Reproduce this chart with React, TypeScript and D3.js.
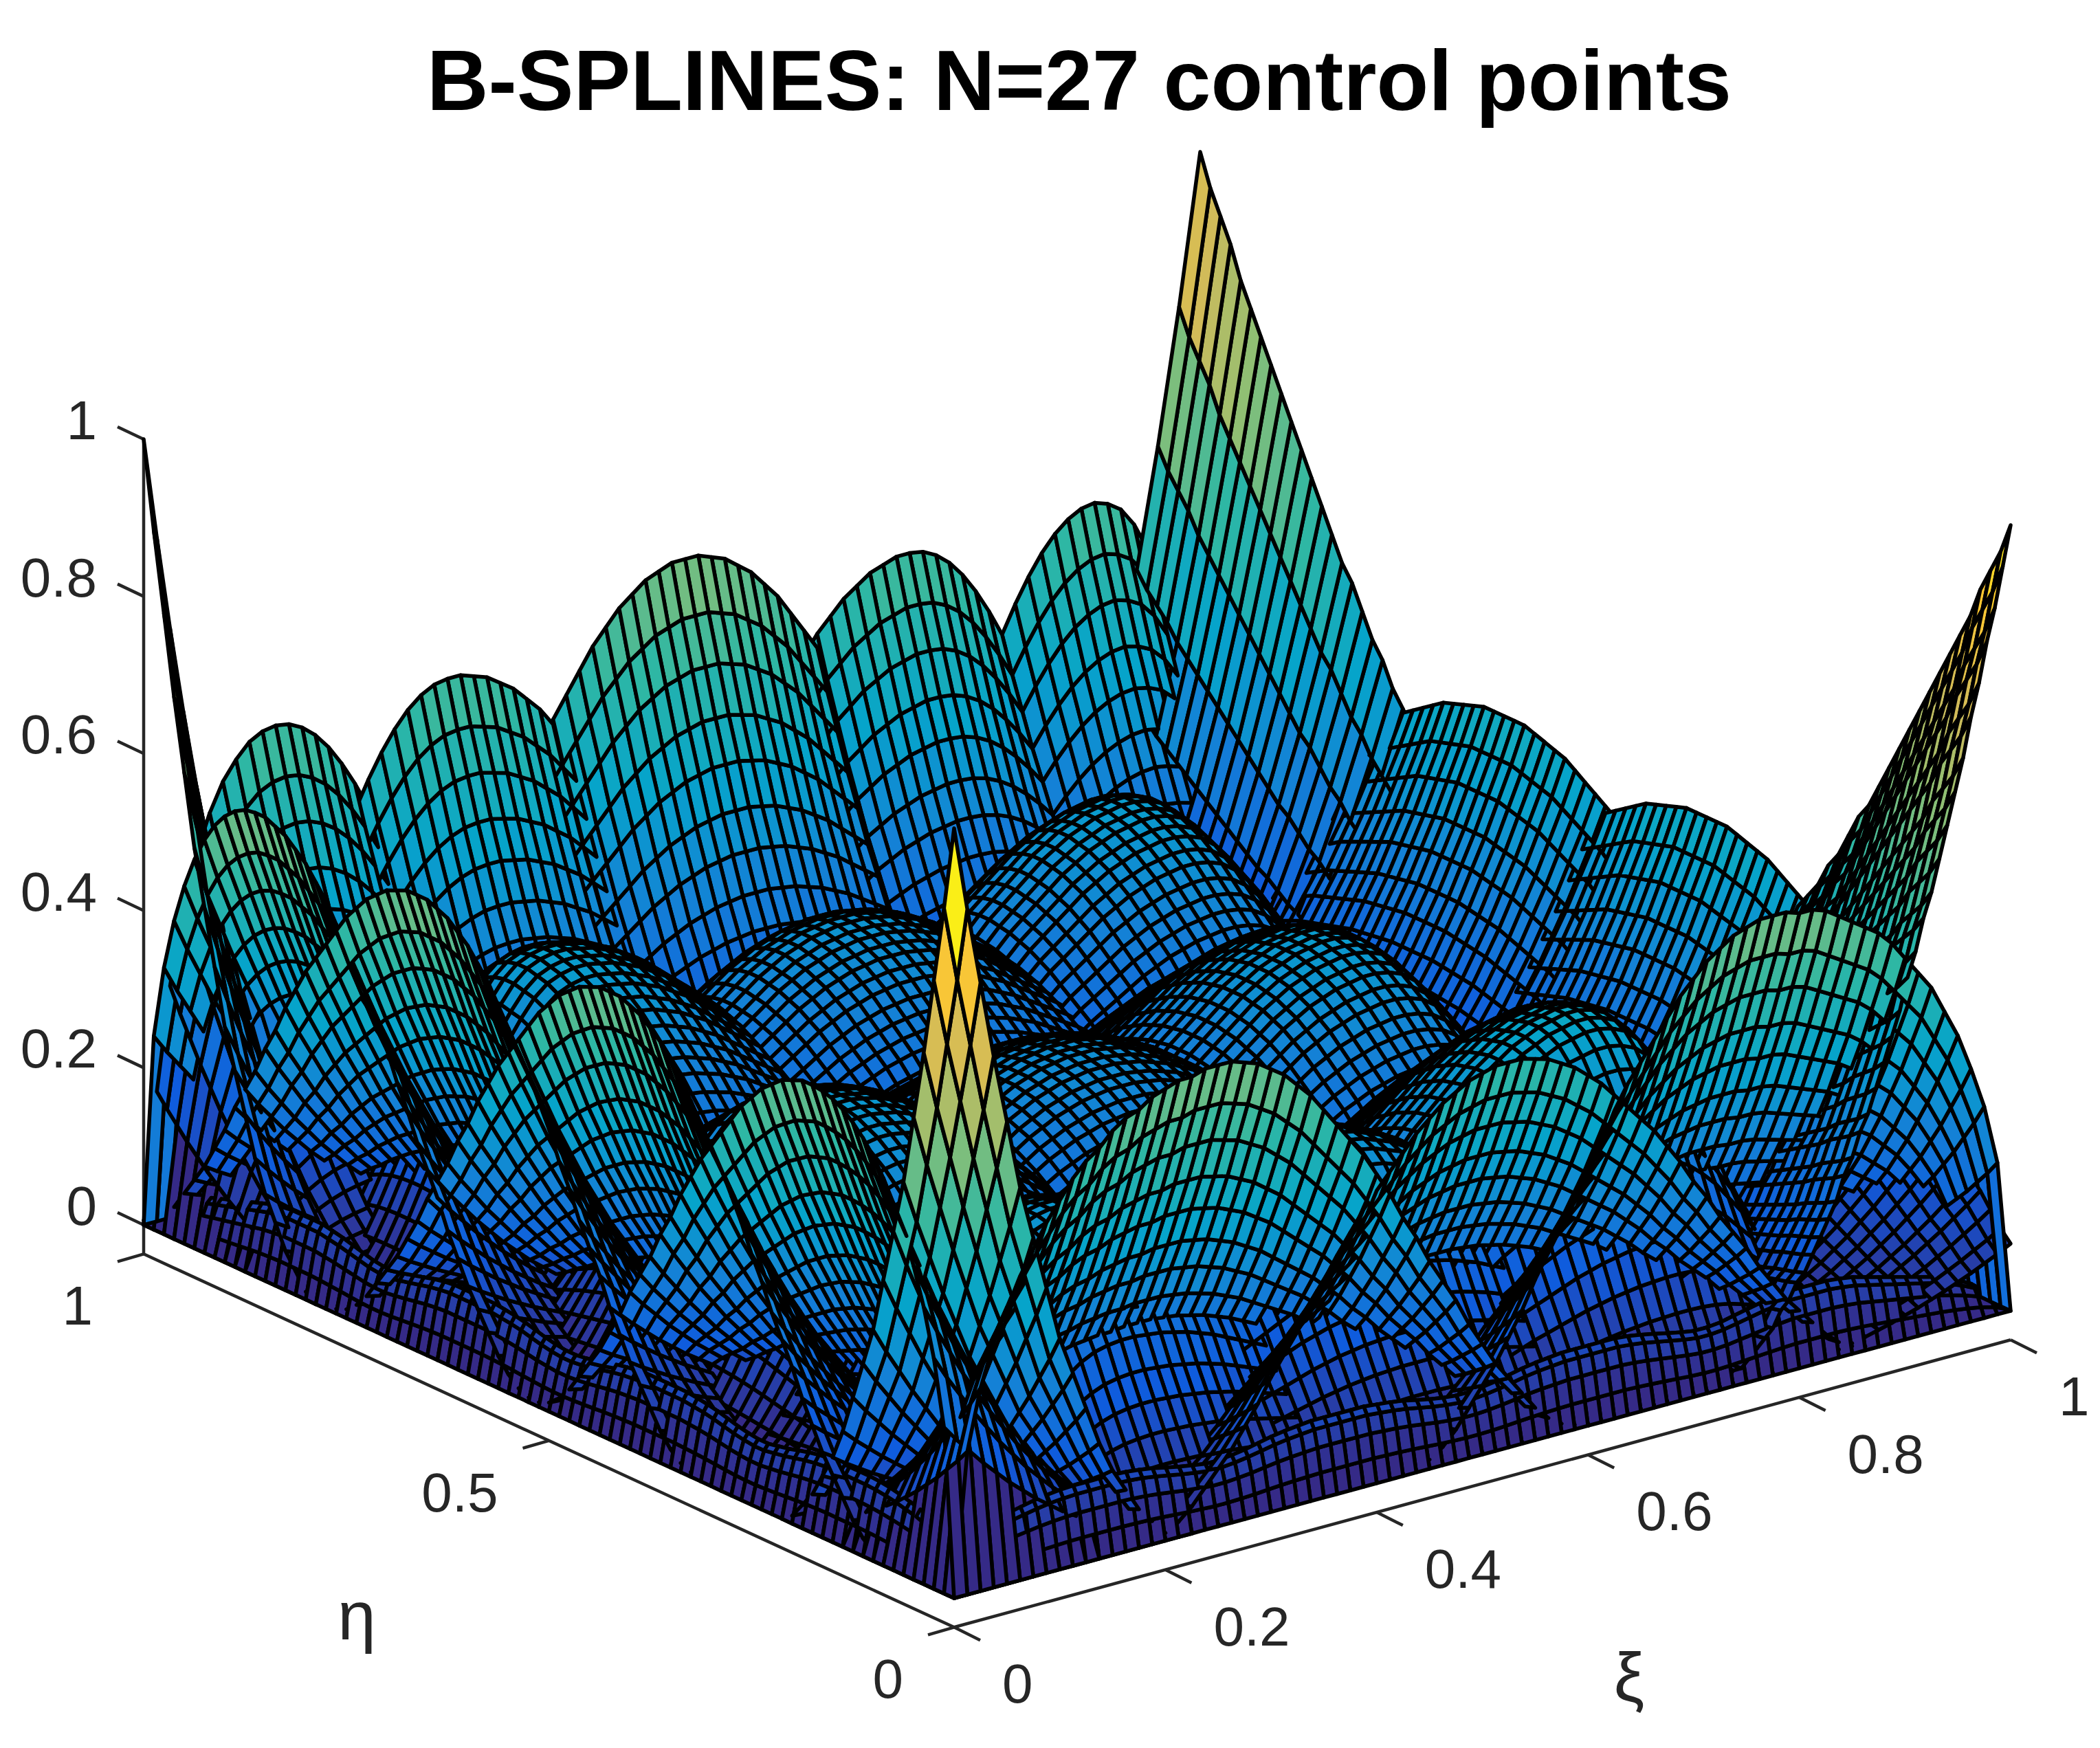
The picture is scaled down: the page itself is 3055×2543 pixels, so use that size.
import { line, scaleLinear, range, rgb } from 'd3';
import { useMemo } from 'react';

const titleText = 'B-SPLINES: N=27 control points';
const zTicks = [0, 0.2, 0.4, 0.6, 0.8, 1];
const xiTicks = [0, 0.2, 0.4, 0.6, 0.8, 1];
const etaTicks = [0, 0.5, 1];

const parula = ['#352a87', '#0f5cdd', '#1481d6', '#06a4ca', '#2eb7a4', '#87bf77', '#d1bb59', '#fec832', '#f9fb0e'];

// mesh steps per unit of xi / eta
const GRID = 80;

// cross sections, one value per mesh step, from the peak outwards
const slope15 = [1, 0.99, 0.97, 0.93, 0.87, 0.8, 0.71, 0.62, 0.51, 0.41, 0.31, 0.21, 0.12, 0.05, 0.01, 0];
const slope20 = [1, 0.995, 0.98, 0.956, 0.922, 0.879, 0.828, 0.77, 0.706, 0.635, 0.563, 0.49, 0.41, 0.333, 0.26, 0.19, 0.13, 0.077, 0.036, 0.01, 0];
const slope28 = [1, 1, 0.99, 0.98, 0.96, 0.94, 0.91, 0.88, 0.84, 0.8, 0.76, 0.72, 0.67, 0.62, 0.56, 0.51, 0.45, 0.4, 0.35, 0.29, 0.24, 0.19, 0.15, 0.11, 0.07, 0.04, 0.02, 0.01, 0];
const slope40 = [1, 1, 1, 0.99, 0.98, 0.97, 0.96, 0.94, 0.92, 0.9, 0.88, 0.86, 0.83, 0.8, 0.78, 0.74, 0.71, 0.68, 0.64, 0.61, 0.56, 0.53, 0.49, 0.45, 0.41, 0.37, 0.33, 0.3, 0.26, 0.22, 0.19, 0.15, 0.12, 0.1, 0.07, 0.05, 0.03, 0.02, 0.01, 0];
const arch8 = [1, 0.99, 0.97, 0.93, 0.87, 0.78, 0.66, 0.48, 0];
const arch10 = [1, 0.995, 0.98, 0.95, 0.91, 0.85, 0.77, 0.66, 0.5, 0.28, 0];
const arch11 = [1, 0.996, 0.983, 0.962, 0.932, 0.891, 0.838, 0.771, 0.686, 0.575, 0.417, 0];
const arch14 = [1, 0.997, 0.99, 0.977, 0.958, 0.934, 0.904, 0.866, 0.82, 0.766, 0.7, 0.619, 0.515, 0.371, 0];
const arch18 = [1, 1, 0.99, 0.99, 0.98, 0.96, 0.94, 0.92, 0.9, 0.87, 0.83, 0.79, 0.75, 0.69, 0.63, 0.55, 0.46, 0.33, 0];
const arch20 = [1, 1, 0.99, 0.99, 0.98, 0.97, 0.95, 0.94, 0.92, 0.89, 0.87, 0.84, 0.8, 0.76, 0.71, 0.66, 0.6, 0.53, 0.44, 0.31, 0];

// falling away from an edge of the domain
const fall18 = [1, 0.89, 0.79, 0.69, 0.6, 0.51, 0.44, 0.37, 0.3, 0.25, 0.2, 0.15, 0.11, 0.08, 0.05, 0.03, 0.01, 0];
const fall15 = [1, 0.87, 0.75, 0.64, 0.54, 0.44, 0.36, 0.28, 0.21, 0.16, 0.11, 0.07, 0.04, 0.02, 0];
const fall20 = [1, 0.9, 0.81, 0.72, 0.64, 0.56, 0.49, 0.42, 0.36, 0.3, 0.25, 0.2, 0.16, 0.12, 0.09, 0.06, 0.04, 0.02, 0.01, 0];
const fall56 = [1, 0.96, 0.93, 0.9, 0.86, 0.83, 0.8, 0.77, 0.74, 0.71, 0.68, 0.65, 0.62, 0.59, 0.56, 0.54, 0.51, 0.48, 0.46, 0.43, 0.41, 0.39, 0.36, 0.34, 0.32, 0.3, 0.28, 0.26, 0.24, 0.22, 0.2, 0.18, 0.17, 0.15, 0.13, 0.12, 0.1, 0.09, 0.08, 0.07, 0.06, 0.05, 0.04, 0.03, 0.02, 0.02, 0.01, 0.01, 0];

// spikes at the two far corners, with their own tighter spacing along xi
const spikeBackCoord = [0, 0.02, 0.04, 0.06, 0.08, 0.1, 0.12, 0.14, 0.16, 0.18, 0.2];
const spikeBackFall = [1, 0.81, 0.64, 0.49, 0.36, 0.25, 0.16, 0.09, 0.04, 0.01, 0];
const spikeRightCoord = range(41).map((k) => k * 0.0075);
const spikeRightFall = [1, 0.95, 0.9, 0.86, 0.81, 0.77, 0.72, 0.68, 0.64, 0.6, 0.56, 0.53, 0.49, 0.46, 0.42, 0.39, 0.36, 0.33, 0.3, 0.28, 0.25, 0.23, 0.2, 0.18, 0.16, 0.14, 0.12, 0.11, 0.09, 0.08, 0.06, 0.05, 0.04, 0.03, 0.02, 0.02, 0.01, 0.01, 0, 0, 0];

// low purple curb along the two front edges, a little higher under each bump
const rimCoord = [0, 0.004, 0.008, 0.012, 0.016, 0.03, 0.05, 0.07];
const rimSection = [0, 0.33, 0.66, 0.9, 1, 0.66, 0.33, 0];
const rimAlong = [
  0, 0.4, 0.6, 0.72, 0.8, 0.86, 0.9, 0.94, 0.97, 0.99,
  1, 1, 1, 1, 0.99, 0.97, 0.94, 0.9, 0.86, 0.83,
  0.8, 0.8, 0.82, 0.85, 0.89, 0.93, 0.96, 0.98, 1, 1,
  1, 1, 1, 0.98, 0.96, 0.93, 0.89, 0.85, 0.82, 0.8,
  0.8, 0.82, 0.85, 0.89, 0.93, 0.96, 0.98, 1, 1, 1,
  1, 1, 0.98, 0.95, 0.91, 0.87, 0.83, 0.8, 0.8, 0.82,
  0.86, 0.9, 0.94, 0.97, 1, 1, 1, 1, 0.98, 0.95,
  0.9, 0.85, 0.8, 0.75, 0.7, 0.65, 0.58, 0.5, 0.4, 0.25,
  0,
];
const RIM_PEAK = 0.09;

// bumps on each edge: where they peak along the edge, how high, and their two flanks
const backLeftXi = [0.125, 0.2875, 0.5125, 0.725, 0.9];
const backLeftPeak = [0.59, 0.59, 0.66, 0.59, 0.59];
const backLeftLow = [arch10, slope20, slope28, slope28, slope20];
const backLeftHigh = [slope20, slope28, slope28, slope20, arch8];

const frontLeftEta = [0.175, 0.425, 0.6625, 0.8625];
const frontLeftPeak = [0.57, 0.57, 0.58, 0.59];
const frontLeftLow = [arch14, slope28, slope28, slope28];
const frontLeftHigh = [slope28, slope28, slope28, arch11];

const frontRightXi = [0.25, 0.525, 0.775];
const frontRightPeak = [0.587, 0.49, 0.585];
const frontRightLow = [arch20, slope28, slope28];
const frontRightHigh = [slope28, slope28, arch18];

const backRightEta = [0.375, 0.625];
const backRightPeak = [0.45, 0.46];

// nine low domes in the middle, listed row by row from the back
const domeXi = [0.23, 0.49, 0.78, 0.22, 0.47, 0.72, 0.22, 0.47, 0.73];
const domeEta = [0.8, 0.78, 0.8, 0.45, 0.47, 0.49, 0.18, 0.18, 0.18];
const domePeak = [0.365, 0.32, 0.356, 0.34, 0.3, 0.349, 0.33, 0.33, 0.4];
const domeXiLow = [slope15, slope28, slope28, slope15, slope28, slope28, slope15, slope28, slope28];
const domeXiHigh = [slope28, slope28, slope15, slope28, slope28, slope15, slope28, slope28, slope15];
const domeEtaLow = [slope28, slope28, slope28, slope28, slope28, slope28, slope15, slope15, slope15];
const domeEtaHigh = [slope15, slope15, slope15, slope28, slope28, slope28, slope28, slope28, slope28];

const grid = range(GRID + 1).map((i) => i / GRID);

const bump = (center, low, high) => {
  const c = Math.round(center * GRID);
  const p = new Array(GRID + 1).fill(0);
  low.forEach((v, k) => {
    if (c - k >= 0) p[c - k] = v;
  });
  high.forEach((v, k) => {
    if (c + k <= GRID) p[c + k] = v;
  });
  return p;
};
const fromLow = (arr) => bump(0, [], arr);
const fromHigh = (arr) => bump(1, arr, []);
// a section with its own mesh spacing, measured from the near or the far edge
const nearEdge = (coord, values) => ({ coord, values });
const farEdge = (coord, values) => ({ coord: coord.map((c) => 1 - c).reverse(), values: [...values].reverse() });
const onGrid = (values) => ({ coord: grid, values });

const sheets = [
  { xi: nearEdge(rimCoord, rimSection), eta: onGrid(rimAlong), peak: RIM_PEAK },
  { xi: onGrid(rimAlong), eta: nearEdge(rimCoord, rimSection), peak: RIM_PEAK },
  // corners
  { xi: onGrid(fromLow(fall18)), eta: onGrid(fromLow(fall18)), peak: 0.98 },
  { xi: onGrid(fromLow(fall15)), eta: onGrid(fromHigh(fall18)), peak: 1 },
  { xi: farEdge(spikeBackCoord, spikeBackFall), eta: onGrid(fromHigh(fall56)), peak: 1 },
  { xi: farEdge(spikeRightCoord, spikeRightFall), eta: onGrid(fromLow(fall56)), peak: 1 },
  ...backLeftXi.map((c, k) => ({ xi: onGrid(bump(c, backLeftLow[k], backLeftHigh[k])), eta: onGrid(fromHigh(fall20)), peak: backLeftPeak[k] })),
  ...frontLeftEta.map((c, k) => ({ xi: onGrid(fromLow(fall20)), eta: onGrid(bump(c, frontLeftLow[k], frontLeftHigh[k])), peak: frontLeftPeak[k] })),
  ...frontRightXi.map((c, k) => ({ xi: onGrid(bump(c, frontRightLow[k], frontRightHigh[k])), eta: onGrid(fromLow(fall20)), peak: frontRightPeak[k] })),
  ...backRightEta.map((c, k) => ({ xi: onGrid(fromHigh(fall20)), eta: onGrid(bump(c, slope40, slope40)), peak: backRightPeak[k] })),
  ...domeXi.map((c, k) => ({
    xi: onGrid(bump(c, domeXiLow[k], domeXiHigh[k])),
    eta: onGrid(bump(domeEta[k], domeEtaLow[k], domeEtaHigh[k])),
    peak: domePeak[k],
  })),
];

// orthographic view of the unit box, measured on the reference
const xiX = scaleLinear([0, 1], [0, 1537]);
const xiY = scaleLinear([0, 1], [0, -418]);
const etaX = scaleLinear([0, 1], [0, -1179]);
const etaY = scaleLinear([0, 1], [0, -543]);
const zY = scaleLinear([0, 1], [0, -1143]);
const project = (xi, eta, z) => [1388 + xiX(xi) + etaX(eta), 2325 + xiY(xi) + etaY(eta) + zY(z)];
const depth = (xi, eta, z) => 1179 * xi + 1537 * eta - 1161 * z;

const color = scaleLinear(parula.map((_, i) => i / (parula.length - 1)), parula).clamp(true);
const colorOf = (z) => rgb(color(Math.floor(z * 64) / 64)).formatHex();

const FLOOR = -0.037;
const AXIS = '#262626';
const FONT = '"Liberation Sans", Arial, sans-serif';

const App = () => {
  const cells = useMemo(() => {
    const path = line().digits(1);
    const out = [];
    sheets.forEach((s) => {
      const xs = s.xi.values;
      const es = s.eta.values;
      const xc = s.xi.coord;
      const ec = s.eta.coord;
      for (let i = 0; i < xs.length - 1; i++) {
        if (xs[i] === 0 && xs[i + 1] === 0) continue;
        for (let j = 0; j < es.length - 1; j++) {
          if (es[j] === 0 && es[j + 1] === 0) continue;
          const z00 = s.peak * xs[i] * es[j];
          const z10 = s.peak * xs[i + 1] * es[j];
          const z11 = s.peak * xs[i + 1] * es[j + 1];
          const z01 = s.peak * xs[i] * es[j + 1];
          if (Math.max(z00, z10, z11, z01) < 0.004) continue;
          out.push({
            depth: depth((xc[i] + xc[i + 1]) / 2, (ec[j] + ec[j + 1]) / 2, (z00 + z10 + z11 + z01) / 4),
            d: path([
              project(xc[i], ec[j], z00),
              project(xc[i + 1], ec[j], z10),
              project(xc[i + 1], ec[j + 1], z11),
              project(xc[i], ec[j + 1], z01),
            ]) + 'Z',
            fill: colorOf(z00),
          });
        }
      }
    });
    return out.sort((a, b) => b.depth - a.depth);
  }, []);

  const ground = line()([project(0, 0, 0), project(1, 0, 0), project(1, 1, 0), project(0, 1, 0)]) + 'Z';
  const [ox, oy] = project(0, 0, FLOOR);
  const [xx, xy] = project(1, 0, FLOOR);
  const [ex, ey] = project(0, 1, FLOOR);
  const [tx, ty] = project(0, 1, 1);

  return (
    <svg width={3055} height={2543} style={{ position: 'absolute', left: 0, top: 0, background: '#fff' }}>
      <text x={1570} y={160} textAnchor="middle" fontFamily={FONT} fontWeight="bold" fontSize={124} fill="#000">
        {titleText}
      </text>

      <g stroke={AXIS} strokeWidth={4.5} fill="none">
        <line x1={ox} y1={oy} x2={xx} y2={xy} />
        <line x1={ox} y1={oy} x2={ex} y2={ey} />
        <line x1={tx} y1={ty} x2={ex} y2={ey} />
        {zTicks.map((t) => {
          const [x, y] = project(0, 1, t);
          return <line key={t} x1={x} y1={y} x2={x - 38} y2={y - 18} />;
        })}
        {xiTicks.map((t) => {
          const [x, y] = project(t, 0, FLOOR);
          return <line key={t} x1={x} y1={y} x2={x + 38} y2={y + 19} />;
        })}
        {etaTicks.map((t) => {
          const [x, y] = project(0, t, FLOOR);
          return <line key={t} x1={x} y1={y} x2={x - 38} y2={y + 11} />;
        })}
      </g>

      <path d={ground} fill={parula[0]} />
      <g stroke="#000" strokeWidth={5.5} strokeLinejoin="round">
        {cells.map((c, i) => (
          <path key={i} d={c.d} fill={c.fill} />
        ))}
      </g>

      <g fontFamily={FONT} fontSize={80} fill={AXIS}>
        {zTicks.map((t) => {
          const [x, y] = project(0, 1, t);
          return (
            <text key={t} x={x - 68} y={y} textAnchor="end">
              {t}
            </text>
          );
        })}
        {xiTicks.map((t) => {
          const [x, y] = project(t, 0, FLOOR);
          return (
            <text key={t} x={x + 70} y={y + 110}>
              {t}
            </text>
          );
        })}
        {etaTicks.map((t) => {
          const [x, y] = project(0, t, FLOOR);
          return (
            <text key={t} x={x - 74} y={y + 103} textAnchor="end">
              {t}
            </text>
          );
        })}
      </g>
      <text x={519} y={2385} textAnchor="middle" fontFamily={FONT} fontSize={100} fill={AXIS}>
        η
      </text>
      <text x={2370} y={2475} textAnchor="middle" fontFamily={FONT} fontSize={100} fill={AXIS}>
        ξ
      </text>
    </svg>
  );
};

export default App;
